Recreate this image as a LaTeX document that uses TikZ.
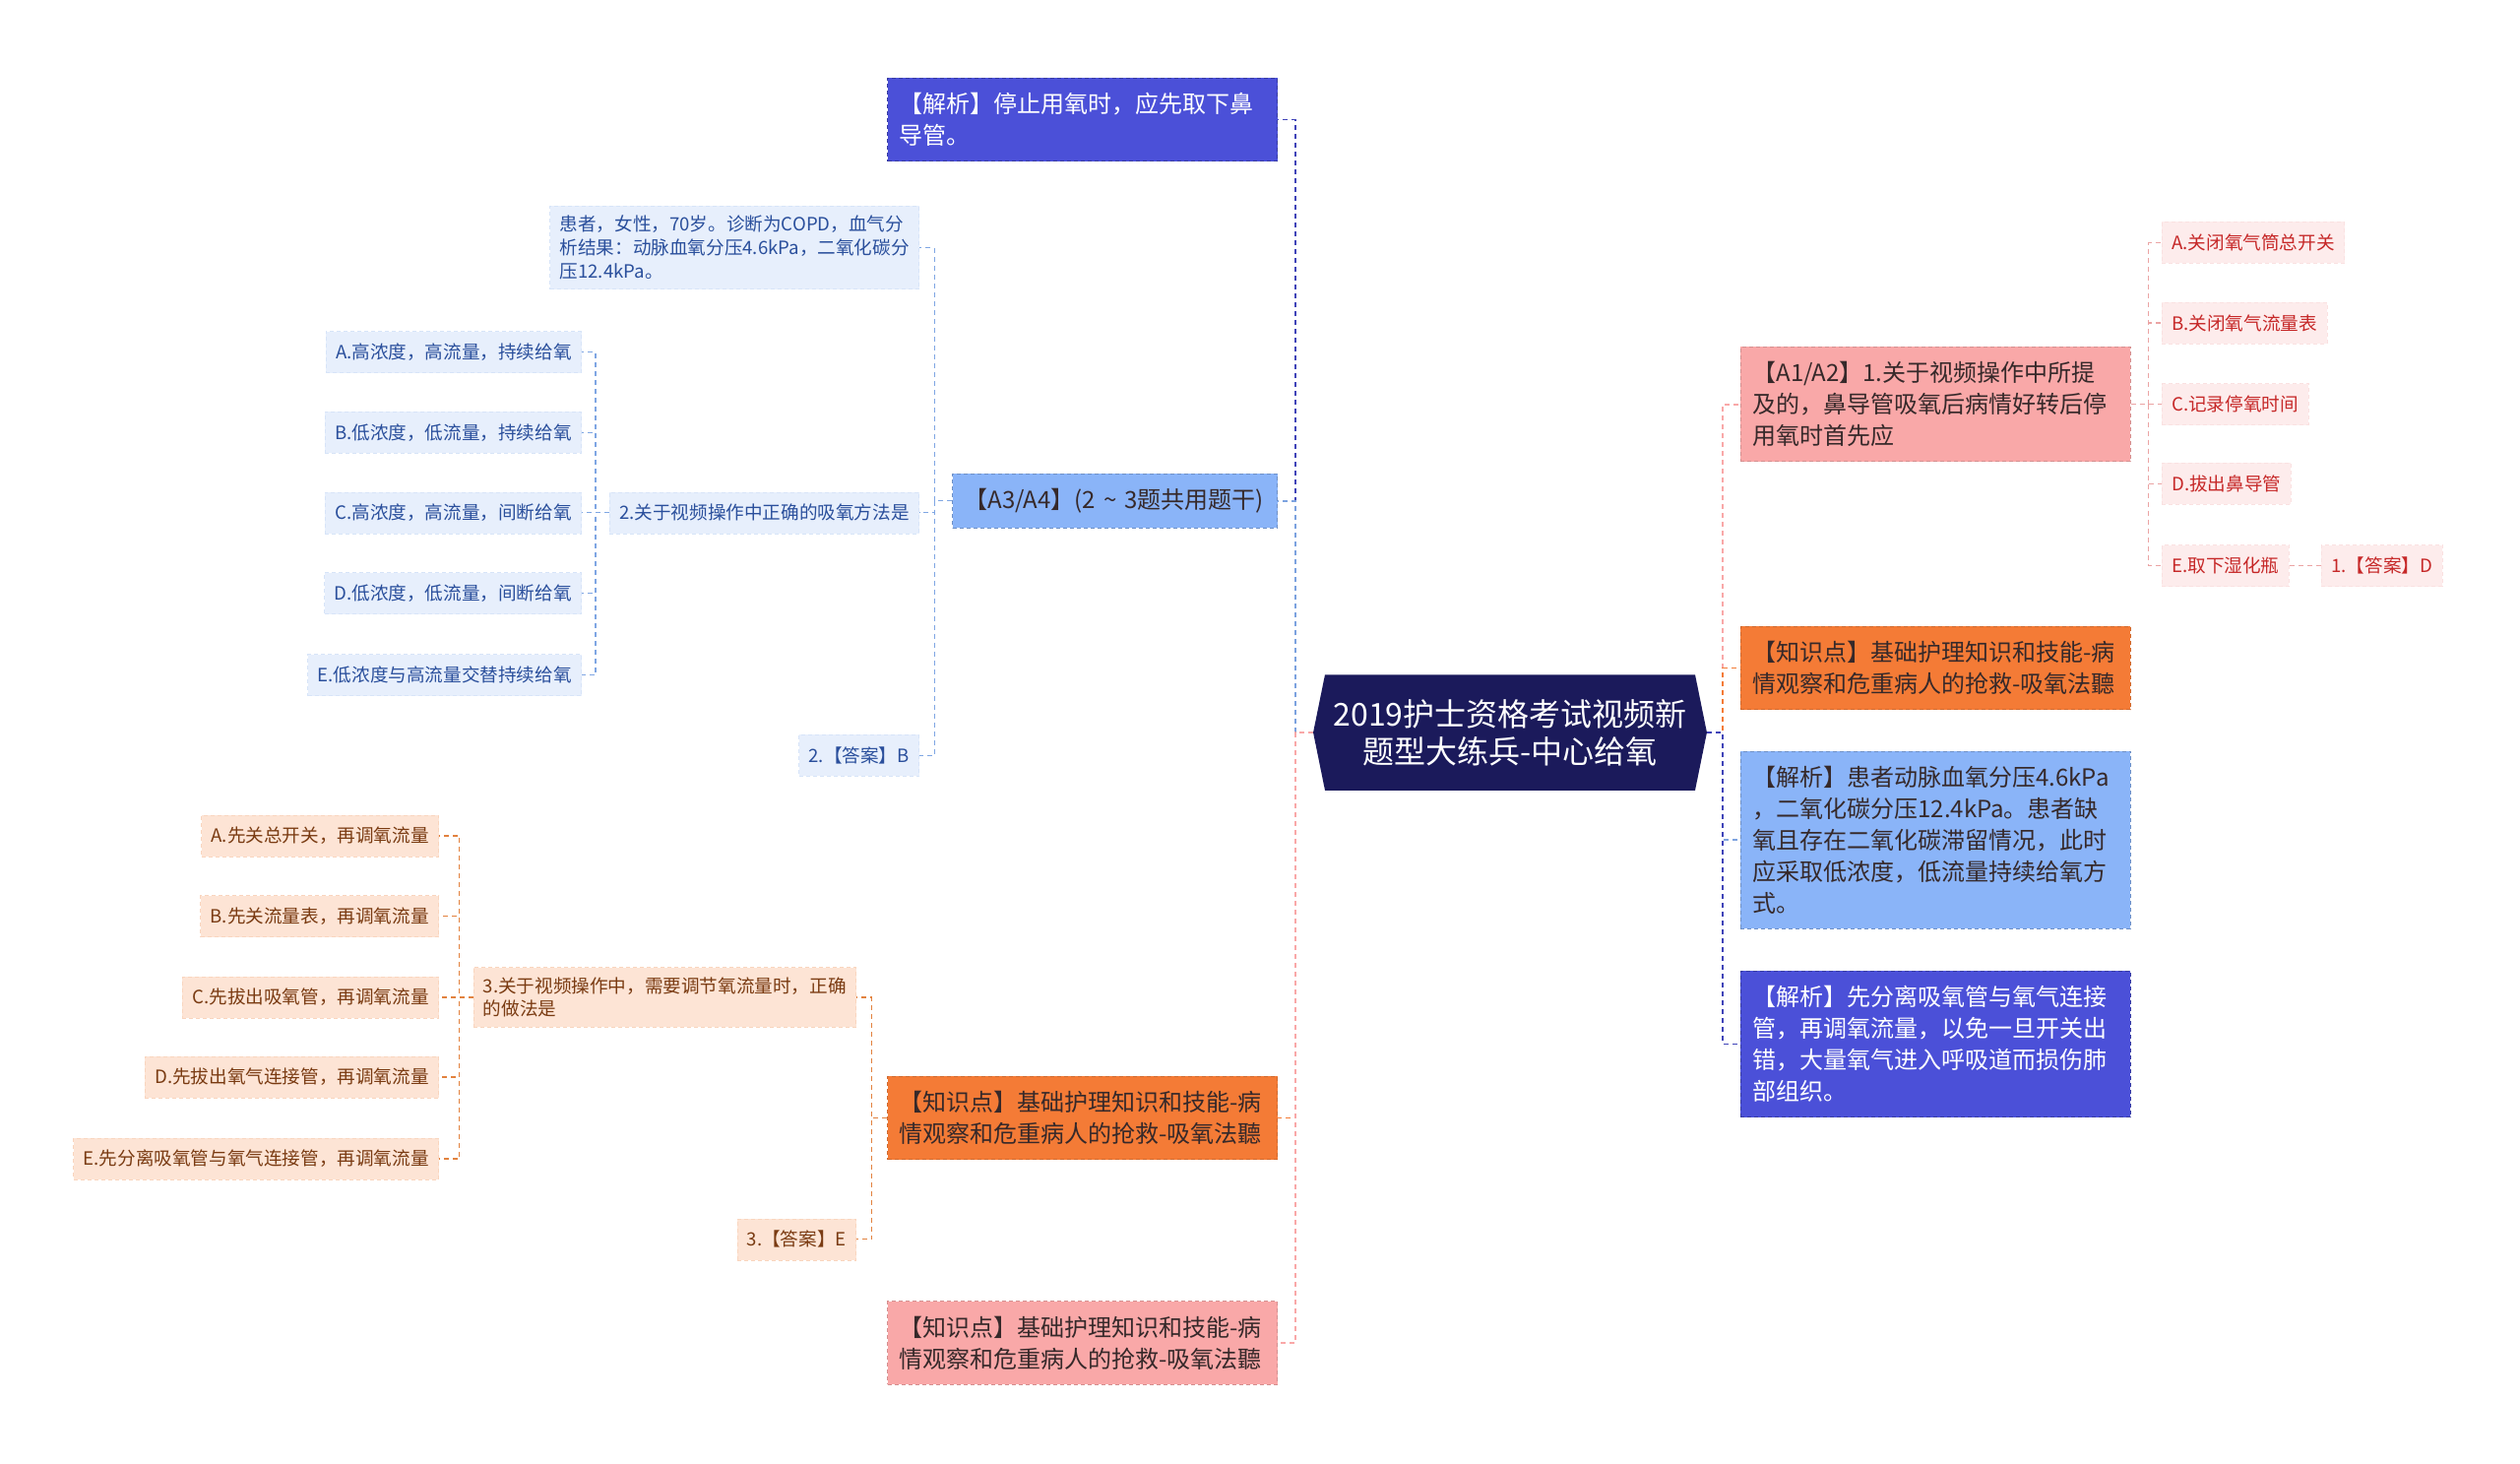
\documentclass[tikz,border=0pt]{standalone}
\usepackage{fontspec}
\setmainfont{Noto Sans CJK SC}
\usetikzlibrary{shapes.symbols}
\definecolor{oxnavy}{HTML}{1B1A5B}
\definecolor{oxviolet}{HTML}{4B50D8}
\definecolor{oxsky}{HTML}{8AB4F8}
\definecolor{oxorange}{HTML}{F47B36}
\definecolor{oxpink}{HTML}{F9A8A8}
\definecolor{oxink}{HTML}{36292A}
\definecolor{bluefill}{HTML}{E7EFFC}
\definecolor{bluetext}{HTML}{2A4F9C}
\definecolor{blueline}{HTML}{7FA6E3}
\definecolor{orfill}{HTML}{FDE4D5}
\definecolor{ortext}{HTML}{7A3B12}
\definecolor{orline}{HTML}{E2823F}
\definecolor{redfill}{HTML}{FDECEC}
\definecolor{redtext}{HTML}{C62828}
\definecolor{redline}{HTML}{EBA4A4}

\begin{document}
\begin{tikzpicture}[x=0.5pt, y=-0.5pt,
          lnk/.style={dash pattern=on 2.5pt off 2pt, line width=0.9pt},
          sublnk/.style={dash pattern=on 2.5pt off 2pt, line width=0.6pt},
          top/.style={draw, dash pattern=on 2pt off 1.5pt, line width=0.4pt, inner xsep=6pt, inner ysep=7.5pt, text width=186pt, align=left, font=\fontsize{12}{16}\selectfont, text=oxink},
          sub/.style={draw, dash pattern=on 2pt off 1.5pt, line width=0.3pt, inner xsep=5pt, inner ysep=5pt, minimum height=21pt, align=left, font=\fontsize{9.3}{11.8}\selectfont},
          bsub/.style={sub, fill=bluefill, draw=bluefill!85!blueline, text=bluetext},
          osub/.style={sub, fill=orfill, draw=orfill!85!orline, text=ortext},
          rsub/.style={sub, fill=redfill, draw=redfill!85!redline, text=redtext}]
          \useasboundingbox (0,0) rectangle (2560,1487);
          \node[signal, signal to=east and west, signal pointer angle=157, fill=oxnavy, text=white, text width=180pt, align=center, inner xsep=4pt, minimum height=58.75pt, font=\fontsize{16}{19}\selectfont] (root) at (1534,744) {2019护士资格考试视频新\\题型大练兵-中心给氧};
          \node[top, anchor=east, fill=oxviolet, draw=oxviolet!75!black, text=white] (j1) at (1298,121.6) {【解析】停止用氧时，应先取下鼻\\导管。};
          \node[top, anchor=east, fill=oxsky, draw=oxsky!80!black, text width=153pt] (a34) at (1298,508.6) {【A3/A4】(2 \textasciitilde{} 3题共用题干)};
          \node[top, anchor=east, fill=oxorange, draw=oxorange!85!black] (k1) at (1298,1135.5) {【知识点】基础护理知识和技能-病\\情观察和危重病人的抢救-吸氧法聽};
          \node[top, anchor=east, fill=oxpink, draw=oxpink!85!black] (k2) at (1298,1364) {【知识点】基础护理知识和技能-病\\情观察和危重病人的抢救-吸氧法聽};
          \node[top, anchor=west, fill=oxpink, draw=oxpink!85!black] (r1) at (1768,410.6) {【A1/A2】1.关于视频操作中所提\\及的，鼻导管吸氧后病情好转后停\\用氧时首先应};
          \node[top, anchor=west, fill=oxorange, draw=oxorange!85!black] (k3) at (1768,678.4) {【知识点】基础护理知识和技能-病\\情观察和危重病人的抢救-吸氧法聽};
          \node[top, anchor=west, fill=oxsky, draw=oxsky!80!black] (j2) at (1768,853.1) {【解析】患者动脉血氧分压4.6kPa\\，二氧化碳分压12.4kPa。患者缺\\氧且存在二氧化碳滞留情况，此时\\应采取低浓度，低流量持续给氧方\\式。};
          \node[top, anchor=west, fill=oxviolet, draw=oxviolet!75!black, text=white] (j3) at (1768,1060.4) {【解析】先分离吸氧管与氧气连接\\管，再调氧流量，以免一旦开关出\\错，大量氧气进入呼吸道而损伤肺\\部组织。};
          \draw[lnk, oxviolet!85!black] (root.west) -- ++(-18,0) |- (j1.east);
          \draw[lnk, oxsky!90!black] (root.west) -- ++(-18,0) |- (a34.east);
          \draw[lnk, oxorange] (root.west) -- ++(-18,0) |- (k1.east);
          \draw[lnk, oxpink] (root.west) -- ++(-18,0) |- (k2.east);
          \draw[lnk, oxpink] (root.east) -- ++(16,0) |- (r1.west);
          \draw[lnk, oxorange] (root.east) -- ++(16,0) |- (k3.west);
          \draw[lnk, oxsky!90!black] (root.east) -- ++(16,0) |- (j2.west);
          \draw[lnk, oxviolet!85!black] (root.east) -- ++(16,0) |- (j3.west);
          \node[bsub, anchor=east] (hz) at (934,251.4) {患者，女性，70岁。诊断为COPD，血气分\\析结果：动脉血氧分压4.6kPa，二氧化碳分\\压12.4kPa。};
          \node[bsub, anchor=east] (q2) at (934,520.8) {2.关于视频操作中正确的吸氧方法是};
          \node[bsub, anchor=east] (ans2) at (934,767.4) {2.【答案】B};
          \draw[sublnk, blueline] (a34.west) -- ++(-18,0) |- (hz.east);
          \draw[sublnk, blueline] (a34.west) -- ++(-18,0) |- (q2.east);
          \draw[sublnk, blueline] (a34.west) -- ++(-18,0) |- (ans2.east);
          \node[bsub, anchor=east] (q2a) at (591,357.6) {A.高浓度，高流量，持续给氧};
          \node[bsub, anchor=east] (q2b) at (591,439.2) {B.低浓度，低流量，持续给氧};
          \node[bsub, anchor=east] (q2c) at (591,520.8) {C.高浓度，高流量，间断给氧};
          \node[bsub, anchor=east] (q2d) at (591,602.5) {D.低浓度，低流量，间断给氧};
          \node[bsub, anchor=east] (q2e) at (591,685.7) {E.低浓度与高流量交替持续给氧};
          \draw[sublnk, blueline] (q2.west) -- ++(-14,0) |- (q2a.east); \draw[sublnk, blueline] (q2.west) -- ++(-14,0) |- (q2b.east);
          \draw[sublnk, blueline] (q2.west) -- (q2c.east);
          \draw[sublnk, blueline] (q2.west) -- ++(-14,0) |- (q2d.east); \draw[sublnk, blueline] (q2.west) -- ++(-14,0) |- (q2e.east);
          \node[osub, anchor=east] (q3) at (870,1013) {3.关于视频操作中，需要调节氧流量时，正确\\的做法是};
          \node[osub, anchor=east] (ans3) at (870,1258.8) {3.【答案】E};
          \draw[sublnk, orline] (k1.west) -- ++(-16,0) |- (q3.east);
          \draw[sublnk, orline] (k1.west) -- ++(-16,0) |- (ans3.east);
          \node[osub, anchor=east] (q3a) at (446,849) {A.先关总开关，再调氧流量};
          \node[osub, anchor=east] (q3b) at (446,930.6) {B.先关流量表，再调氧流量};
          \node[osub, anchor=east] (q3c) at (446,1013) {C.先拔出吸氧管，再调氧流量};
          \node[osub, anchor=east] (q3d) at (446,1094) {D.先拔出氧气连接管，再调氧流量};
          \node[osub, anchor=east] (q3e) at (446,1177) {E.先分离吸氧管与氧气连接管，再调氧流量};
          \draw[sublnk, orline] (q3.west) -- ++(-14,0) |- (q3a.east); \draw[sublnk, orline] (q3.west) -- ++(-14,0) |- (q3b.east);
          \draw[sublnk, orline] (q3.west) -- (q3c.east);
          \draw[sublnk, orline] (q3.west) -- ++(-14,0) |- (q3d.east); \draw[sublnk, orline] (q3.west) -- ++(-14,0) |- (q3e.east);
          \node[rsub, anchor=west] (o1a) at (2196,246.5) {A.关闭氧气筒总开关};
          \node[rsub, anchor=west] (o1b) at (2196,328) {B.关闭氧气流量表};
          \node[rsub, anchor=west] (o1c) at (2196,410.6) {C.记录停氧时间};
          \node[rsub, anchor=west] (o1d) at (2196,491.4) {D.拔出鼻导管};
          \node[rsub, anchor=west] (o1e) at (2196,574.7) {E.取下湿化瓶};
          \node[rsub, anchor=west] (ans1) at (2358,574.7) {1.【答案】D};
          \draw[sublnk, redline] (r1.east) -- ++(18,0) |- (o1a.west); \draw[sublnk, redline] (r1.east) -- ++(18,0) |- (o1b.west);
          \draw[sublnk, redline] (r1.east) -- (o1c.west);
          \draw[sublnk, redline] (r1.east) -- ++(18,0) |- (o1d.west); \draw[sublnk, redline] (r1.east) -- ++(18,0) |- (o1e.west);
          \draw[sublnk, redline] (o1e.east) -- (ans1.west);
        \end{tikzpicture}
\end{document}
